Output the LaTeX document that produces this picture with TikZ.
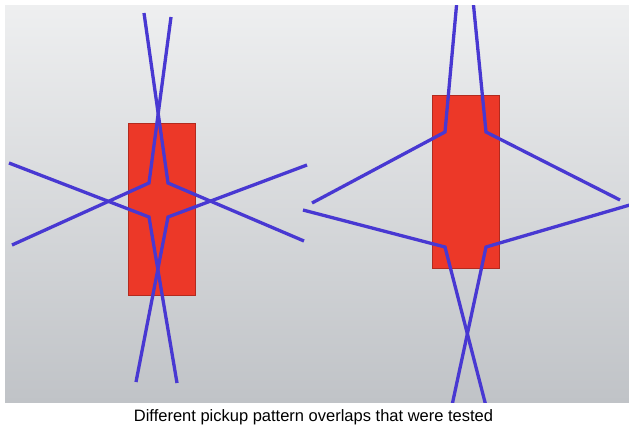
\documentclass[tikz,border=0pt]{standalone}
\usepackage{fontspec}
\setmainfont{Liberation Sans}
\definecolor{beamblue}{RGB}{72,56,210}
\definecolor{boxred}{RGB}{236,56,40}
\definecolor{boxedge}{RGB}{178,42,30}
\definecolor{bgtop}{RGB}{238,239,240}
\definecolor{bgbottom}{RGB}{192,195,199}
\tikzset{
  beam/.style    = {draw=beamblue, line width=3.3pt, line join=miter},
  pickup/.style  = {fill=boxred, draw=boxedge, line width=0.8pt},
  caption/.style = {font=\fontsize{16.5}{19}\selectfont, inner sep=0pt},
}

\begin{document}
\begin{tikzpicture}[x=1pt, y=-1pt]
  \useasboundingbox (0,0) rectangle (629,432);
  \shade[top color=bgtop, bottom color=bgbottom] (5,5) rectangle (629,402);

  % the two pickups
  \draw[pickup] (128,123) rectangle (195,295);
  \draw[pickup] (432,95) rectangle (499,268);

  % left pattern
  \coordinate (L-ul) at (149,183);
  \coordinate (L-ur) at (168,183);
  \coordinate (L-ll) at (149,217);
  \coordinate (L-lr) at (168,217);
  \coordinate (L-n1) at (144,13);
  \coordinate (L-n2) at (171,17);
  \coordinate (L-w1) at (9,163);
  \coordinate (L-w2) at (12,245);
  \coordinate (L-e1) at (307,165);
  \coordinate (L-e2) at (304,241);
  \coordinate (L-s1) at (136,382);
  \coordinate (L-s2) at (177,383);

  % right pattern
  \coordinate (R-ul) at (445,132);
  \coordinate (R-ur) at (486,132);
  \coordinate (R-ll) at (445,247);
  \coordinate (R-lr) at (486,247);
  \coordinate (R-n1) at (457,0);
  \coordinate (R-n2) at (473,0);
  \coordinate (R-w1) at (312,203);
  \coordinate (R-w2) at (303,210);
  \coordinate (R-e1) at (620,200);
  \coordinate (R-e2) at (640,202);
  \coordinate (R-s1) at (451,410);
  \coordinate (R-s2) at (487,410);

  \begin{scope}
    \clip (5,5) rectangle (629,402);
    \foreach \a/\b/\c in {L-n1/L-ur/L-e2, L-n2/L-ul/L-w2, L-w1/L-ll/L-s2, L-e1/L-lr/L-s1,
                          R-n1/R-ul/R-w1, R-n2/R-ur/R-e1, R-w2/R-ll/R-s2, R-e2/R-lr/R-s1}
      \draw[beam] (\a) -- (\b) -- (\c);
  \end{scope}

  \node[caption, anchor=base] (cap) at (313.5,421)
    {Different pickup pattern overlaps that were tested};
\end{tikzpicture}
\end{document}
